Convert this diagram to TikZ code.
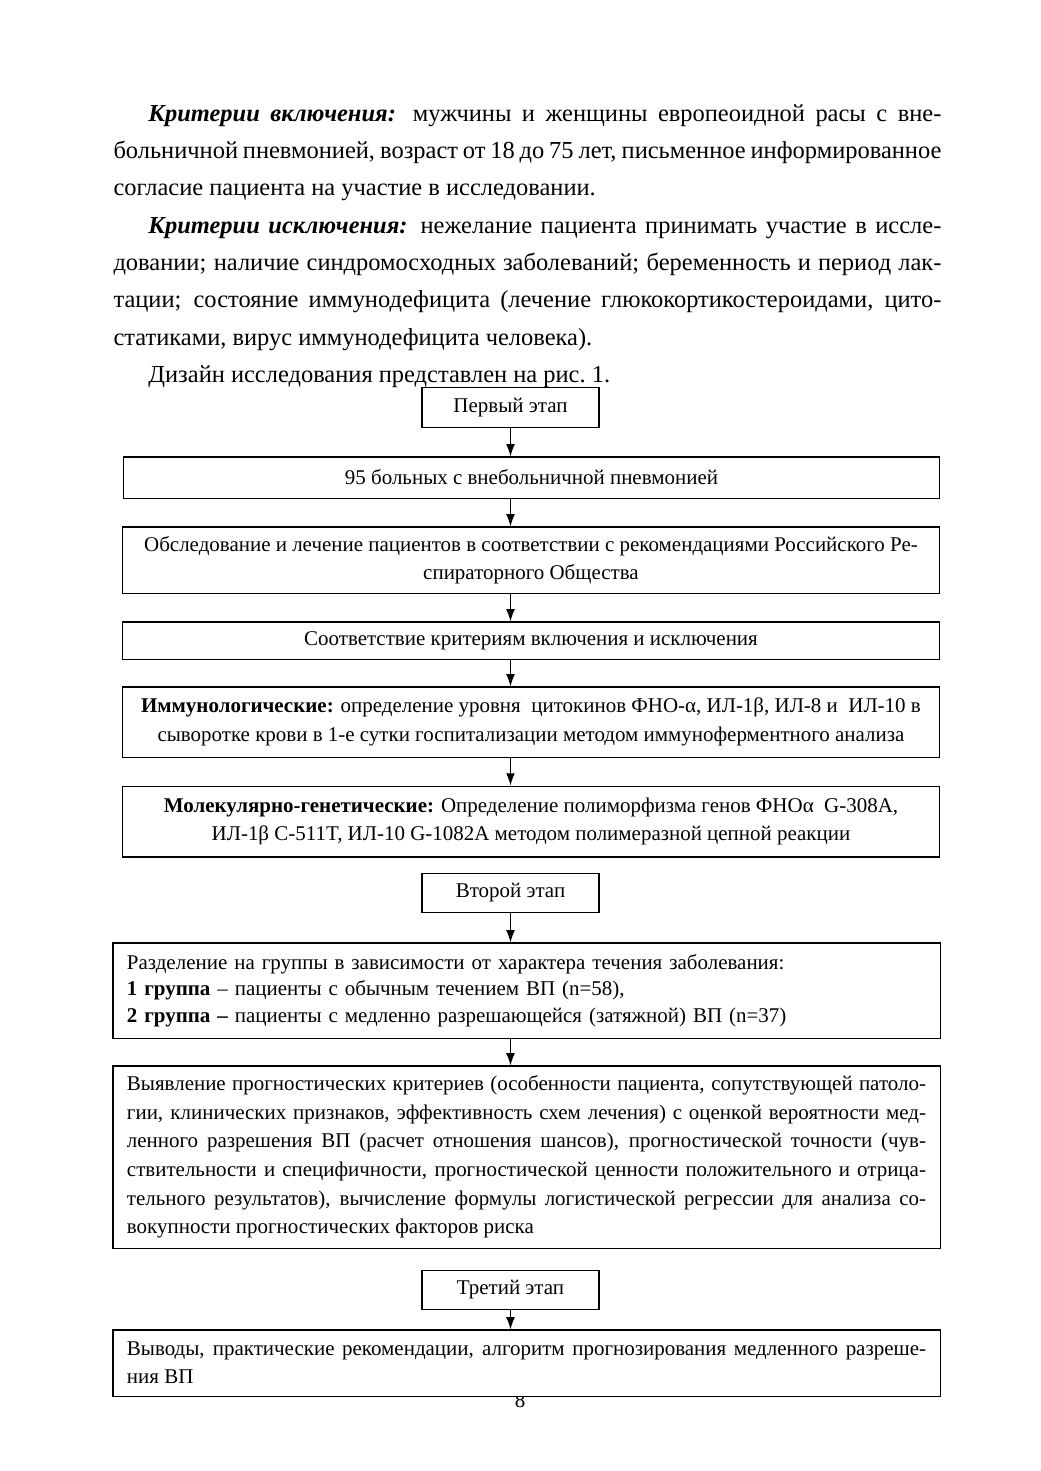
\documentclass[tikz,border=0pt]{standalone}
\usepackage{fontspec}
\setmainfont{Liberation Serif}
\usetikzlibrary{arrows.meta,positioning}

\begin{document}
\begin{tikzpicture}[x=0.5724pt, y=-0.5724pt, line width=0.6pt,
    font=\fontsize{12}{16.3}\selectfont,
    box/.style={draw, fill=white, inner xsep=8pt, inner ysep=2pt},
    stage/.style={box, minimum width=101.3pt, minimum height=22.6pt},
    wide/.style={box, minimum width=467.6pt, align=center},
    wider/.style={box, minimum width=473.4pt, text width=457.4pt, align=justify},
    arr/.style={-{Latex[length=7pt,width=5pt]}}]
  \useasboundingbox (0,0) rectangle (1040,1471);
  % text above the scheme
  \node[anchor=north west, inner sep=0pt, text width=473.9pt, align=justify,
        font=\fontsize{14}{21.35}\selectfont] (txt) at (113,104)
    {\setlength{\parindent}{20pt}\indent
     \textbf{\textit{Критерии включения:}} мужчины и женщины европеоидной расы с вне-\linebreak
     больничной пневмонией, возраст от 18 до 75 лет, письменное информированное\linebreak
     согласие пациента на участие в исследовании.\par
     \textbf{\textit{Критерии исключения:}} нежелание пациента принимать участие в иссле-\linebreak
     довании; наличие синдромосходных заболеваний; беременность и период лак-\linebreak
     тации; состояние иммунодефицита (лечение глюкокортикостероидами, цито-\linebreak
     статиками, вирус иммунодефицита человека).\par
     Дизайн исследования представлен на рис.~1.\par};
  % first stage
  \node[stage] (st1) at (510.5,407.5) {Первый этап};
  \node[wide, minimum height=23.5pt] (pat) at (531.5,477.5)
    {95 больных с внебольничной пневмонией};
  \node[wide, minimum height=37.8pt] (exam) at (531,560)
    {Обследование и лечение пациентов в соответствии с рекомендациями Российского Ре-\\
     спираторного Общества};
  \node[wide, minimum height=21.2pt] (crit) at (531,640.5)
    {Соответствие критериям включения и исключения};
  \node[wide, minimum height=40.1pt] (imm) at (531,722)
    {\textbf{Иммунологические:} определение уровня~ цитокинов ФНО-α, ИЛ-1β, ИЛ-8 и~ ИЛ-10 в\\
     сыворотке крови в 1-е сутки госпитализации методом иммуноферментного анализа};
  \node[wide, minimum height=40.6pt] (gen) at (531,821.5)
    {\textbf{Молекулярно-генетические:} Определение полиморфизма генов ФНОα~ G-308A,\\
     ИЛ-1β C-511T, ИЛ-10 G-1082A методом полимеразной цепной реакции};
  % second stage
  \node[stage] (st2) at (510.5,893) {Второй этап};
  \node[wider, align=left, minimum height=54.4pt, font=\fontsize{12}{15.2}\selectfont]
    (grp) at (526.5,990.5)
    {Разделение на группы в зависимости от характера течения заболевания:\\
     \textbf{1 группа} – пациенты с обычным течением ВП (n=58),\\
     \textbf{2 группа –} пациенты с медленно разрешающейся (затяжной) ВП (n=37)};
  \node[wider, minimum height=104.2pt, font=\fontsize{12}{16.4}\selectfont] (prog) at (526.5,1157)
    {Выявление прогностических критериев (особенности пациента, сопутствующей патоло-\linebreak
     гии, клинических признаков, эффективность схем лечения) с оценкой вероятности мед-\linebreak
     ленного разрешения ВП (расчет отношения шансов), прогностической точности (чув-\linebreak
     ствительности и специфичности, прогностической ценности положительного и отрица-\linebreak
     тельного результатов), вычисление формулы логистической регрессии для анализа со-\linebreak
     вокупности прогностических факторов риска};
  % third stage
  \node[stage] (st3) at (510.5,1290) {Третий этап};
  \node[inner sep=0pt] (pg) at (520,1401) {8};
  \node[wider, minimum height=37.8pt, font=\fontsize{12}{16}\selectfont] (concl) at (526.5,1363)
    {Выводы, практические рекомендации, алгоритм прогнозирования медленного разреше-\linebreak
     ния ВП};
  \draw[arr] (st1) -- (pat.north -| st1);
  \draw[arr] (pat.south -| st1) -- (exam.north -| st1);
  \draw[arr] (exam.south -| st1) -- (crit.north -| st1);
  \draw[arr] (crit.south -| st1) -- (imm.north -| st1);
  \draw[arr] (imm.south -| st1) -- (gen.north -| st1);
  \draw[arr] (st2) -- (grp.north -| st2);
  \draw[arr] (grp.south -| st2) -- (prog.north -| st2);
  \draw[arr] (st3) -- (concl.north -| st3);
\end{tikzpicture}
\end{document}
